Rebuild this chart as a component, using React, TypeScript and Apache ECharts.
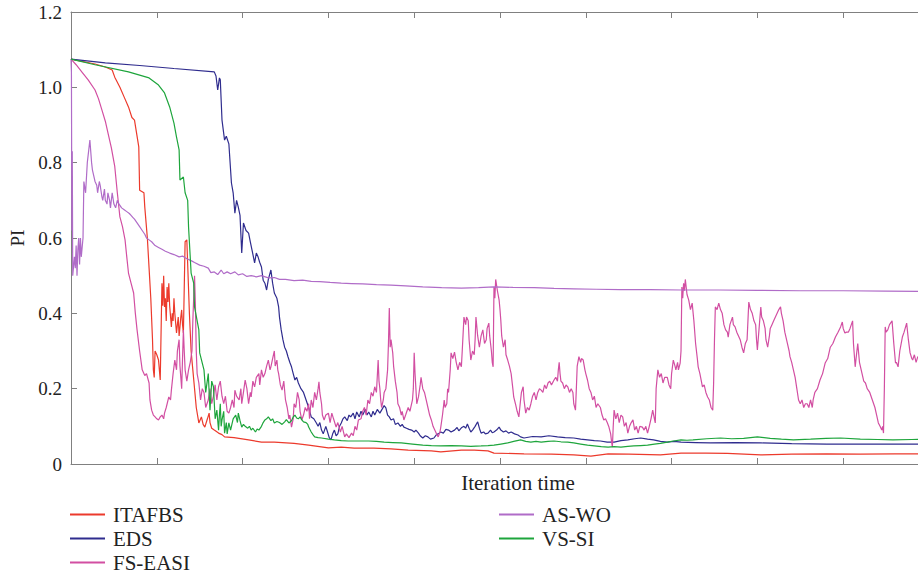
import React, { useEffect, useRef } from "react";
import * as echarts from "echarts";

const seriesNames = ["ITAFBS", "EDS", "FS-EASI", "AS-WO", "VS-SI"];
const seriesColors = ["#ec3a2c", "#2f2c8e", "#d24fa2", "#b06cc8", "#1ea53c"];
const yTicks = [0, 0.2, 0.4, 0.6, 0.8, 1.0, 1.2];

const itafbs: number[][] = [
  [0, 1.075], [28, 1.062], [40, 1.054], [48, 1.046], [51, 1.027], [57, 1.0], [62, 0.974], [67, 0.948],
  [71, 0.92], [74, 0.913], [79, 0.842], [80, 0.727], [85, 0.72], [86, 0.682], [89, 0.6], [91, 0.52],
  [93, 0.44], [95, 0.33], [96, 0.25], [97, 0.23], [98, 0.3], [100, 0.29], [102, 0.276], [104, 0.223],
  [106, 0.48], [107, 0.42], [108, 0.5], [109, 0.417], [110, 0.44], [111, 0.38], [112, 0.47], [113, 0.43],
  [114, 0.48], [115, 0.42], [117, 0.364], [118, 0.4], [119, 0.38], [120, 0.44], [121, 0.4], [123, 0.348],
  [124, 0.37], [125, 0.39], [126, 0.34], [127, 0.364], [128, 0.39], [129, 0.409], [130, 0.37], [131, 0.348],
  [133, 0.59], [135, 0.595], [138, 0.4], [140, 0.3], [142, 0.25], [144, 0.2], [146, 0.15], [149, 0.109],
  [152, 0.125], [154, 0.105], [156, 0.098], [159, 0.12], [161, 0.135], [162, 0.11], [164, 0.095], [167, 0.09],
  [172, 0.082], [176, 0.078], [179, 0.072], [190, 0.07], [207, 0.064], [222, 0.058], [237, 0.058], [260, 0.055],
  [277, 0.05], [300, 0.043], [315, 0.045], [330, 0.042], [353, 0.042], [373, 0.04], [393, 0.037], [420, 0.035],
  [431, 0.032], [455, 0.037], [470, 0.037], [486, 0.035], [493, 0.029], [528, 0.027], [560, 0.026], [586, 0.024],
  [606, 0.021], [626, 0.027], [650, 0.026], [687, 0.024], [711, 0.029], [740, 0.029], [765, 0.028], [804, 0.024],
  [840, 0.026], [881, 0.027], [920, 0.026], [960, 0.027], [1000, 0.027],
];

const eds: number[][] = [
  [0, 1.075], [40, 1.065], [80, 1.058], [120, 1.05], [167, 1.041], [169, 1.03], [171, 0.993], [173, 1.025],
  [174, 1.02], [176, 0.913], [179, 0.86], [181, 0.87], [184, 0.85], [187, 0.746], [189, 0.72], [191, 0.666],
  [193, 0.7], [195, 0.682], [197, 0.66], [199, 0.56], [201, 0.64], [204, 0.62], [207, 0.613], [209, 0.59],
  [211, 0.568], [214, 0.534], [216, 0.56], [218, 0.55], [220, 0.535], [222, 0.523], [224, 0.488], [226, 0.48],
  [228, 0.462], [230, 0.49], [233, 0.515], [235, 0.48], [237, 0.454], [240, 0.44], [242, 0.417], [243, 0.39],
  [245, 0.356], [247, 0.33], [249, 0.31], [251, 0.3], [253, 0.284], [255, 0.27], [257, 0.258], [259, 0.24],
  [261, 0.223], [263, 0.23], [265, 0.215], [268, 0.2], [271, 0.19], [274, 0.17], [277, 0.15], [280, 0.125],
  [283, 0.12], [286, 0.109], [288, 0.1], [290, 0.11], [292, 0.09], [294, 0.08], [297, 0.1], [299, 0.085],
  [301, 0.07], [303, 0.064], [305, 0.08], [307, 0.09], [309, 0.075], [311, 0.08], [313, 0.1], [315, 0.109],
  [317, 0.12], [319, 0.125], [322, 0.115], [324, 0.13], [326, 0.125], [329, 0.135], [331, 0.12], [333, 0.138],
  [336, 0.125], [338, 0.14], [340, 0.13], [343, 0.145], [345, 0.13], [347, 0.138], [350, 0.125], [352, 0.14],
  [354, 0.13], [357, 0.145], [360, 0.135], [362, 0.143], [365, 0.155], [367, 0.149], [369, 0.13], [371, 0.125],
  [373, 0.117], [376, 0.12], [378, 0.105], [381, 0.109], [384, 0.1], [386, 0.105], [388, 0.098], [391, 0.095],
  [394, 0.092], [397, 0.09], [400, 0.085], [402, 0.09], [405, 0.082], [407, 0.075], [410, 0.069], [413, 0.075],
  [416, 0.072], [419, 0.066], [423, 0.069], [426, 0.078], [428, 0.08], [431, 0.085], [434, 0.082], [437, 0.092],
  [440, 0.09], [443, 0.085], [447, 0.09], [450, 0.097], [452, 0.088], [455, 0.096], [458, 0.1], [460, 0.095],
  [462, 0.106], [464, 0.095], [466, 0.085], [468, 0.09], [471, 0.1], [474, 0.112], [476, 0.095], [478, 0.082],
  [481, 0.085], [483, 0.08], [486, 0.082], [489, 0.09], [491, 0.083], [493, 0.085], [496, 0.09], [499, 0.098],
  [501, 0.09], [504, 0.085], [507, 0.088], [510, 0.082], [513, 0.085], [517, 0.08], [521, 0.077], [524, 0.072],
  [528, 0.069], [538, 0.073], [548, 0.072], [557, 0.075], [567, 0.072], [576, 0.07], [586, 0.069], [594, 0.066],
  [602, 0.064], [610, 0.062], [617, 0.061], [625, 0.058], [633, 0.058], [641, 0.062], [649, 0.064], [657, 0.067],
  [664, 0.069], [672, 0.066], [679, 0.064], [687, 0.06], [695, 0.058], [703, 0.06], [711, 0.058], [728, 0.057],
  [745, 0.056], [775, 0.057], [804, 0.056], [840, 0.054], [881, 0.053], [940, 0.053], [1000, 0.053],
];

const fsEasi: number[][] = [
  [0, 1.075], [6, 1.06], [13, 1.04], [20, 1.02], [28, 0.993], [32, 0.97], [36, 0.94], [40, 0.91], [44, 0.87],
  [47, 0.84], [51, 0.79], [54, 0.72], [57, 0.656], [60, 0.63], [63, 0.595], [65, 0.55], [67, 0.507], [70, 0.48],
  [73, 0.454], [75, 0.4], [77, 0.356], [80, 0.3], [83, 0.25], [86, 0.235], [88, 0.24], [91, 0.215], [92, 0.17],
  [94, 0.143], [96, 0.13], [98, 0.125], [100, 0.12], [102, 0.117], [104, 0.125], [106, 0.13], [108, 0.12],
  [109, 0.135], [111, 0.15], [114, 0.178], [116, 0.17], [117, 0.196], [119, 0.24], [121, 0.276], [123, 0.25],
  [124, 0.3], [126, 0.33], [127, 0.26], [129, 0.2], [130, 0.28], [131, 0.356], [132, 0.3], [133, 0.25],
  [135, 0.22], [137, 0.25], [139, 0.27], [141, 0.3], [142, 0.38], [144, 0.5], [145, 0.42], [146, 0.3],
  [147, 0.24], [149, 0.215], [151, 0.17], [153, 0.2], [155, 0.19], [157, 0.15], [160, 0.17], [162, 0.2],
  [164, 0.16], [166, 0.18], [168, 0.21], [170, 0.17], [172, 0.205], [174, 0.22], [176, 0.18], [178, 0.16],
  [180, 0.18], [182, 0.14], [184, 0.135], [186, 0.15], [188, 0.17], [190, 0.15], [191, 0.196], [193, 0.18],
  [196, 0.17], [198, 0.2], [199, 0.16], [201, 0.19], [203, 0.223], [205, 0.2], [207, 0.16], [209, 0.19],
  [210, 0.178], [212, 0.22], [214, 0.205], [216, 0.23], [219, 0.24], [220, 0.21], [222, 0.25], [224, 0.23],
  [226, 0.24], [228, 0.26], [230, 0.276], [232, 0.25], [233, 0.258], [235, 0.28], [237, 0.3], [238, 0.26],
  [240, 0.276], [241, 0.25], [242, 0.24], [244, 0.21], [246, 0.196], [248, 0.22], [250, 0.17], [252, 0.15],
  [254, 0.12], [255, 0.13], [257, 0.098], [259, 0.12], [260, 0.16], [262, 0.15], [264, 0.19], [266, 0.17],
  [267, 0.14], [269, 0.117], [271, 0.13], [273, 0.15], [275, 0.14], [277, 0.16], [278, 0.12], [280, 0.17],
  [282, 0.15], [284, 0.19], [286, 0.17], [288, 0.2], [289, 0.218], [290, 0.19], [292, 0.16], [293, 0.13],
  [295, 0.117], [297, 0.13], [300, 0.135], [302, 0.11], [304, 0.135], [306, 0.12], [309, 0.098], [311, 0.11],
  [314, 0.085], [316, 0.1], [319, 0.072], [321, 0.08], [324, 0.07], [327, 0.082], [329, 0.075], [331, 0.1],
  [333, 0.09], [335, 0.117], [338, 0.12], [340, 0.14], [342, 0.15], [344, 0.13], [346, 0.17], [348, 0.16],
  [350, 0.19], [352, 0.18], [354, 0.205], [356, 0.19], [358, 0.276], [359, 0.22], [360, 0.2], [361, 0.17],
  [362, 0.15], [364, 0.17], [365, 0.19], [367, 0.2], [369, 0.25], [370, 0.32], [371, 0.414], [372, 0.31],
  [373, 0.33], [375, 0.295], [376, 0.26], [378, 0.22], [380, 0.19], [381, 0.16], [383, 0.15], [385, 0.13],
  [386, 0.14], [388, 0.117], [390, 0.13], [393, 0.15], [395, 0.14], [398, 0.17], [399, 0.2], [400, 0.295],
  [401, 0.24], [402, 0.2], [403, 0.16], [405, 0.178], [407, 0.21], [408, 0.23], [410, 0.2], [412, 0.19],
  [414, 0.17], [416, 0.15], [418, 0.13], [420, 0.117], [422, 0.1], [424, 0.09], [426, 0.08], [428, 0.072],
  [430, 0.085], [431, 0.098], [433, 0.13], [435, 0.17], [436, 0.15], [438, 0.16], [439, 0.2], [440, 0.19],
  [442, 0.25], [443, 0.295], [445, 0.28], [447, 0.297], [449, 0.27], [451, 0.25], [453, 0.27], [455, 0.258],
  [456, 0.3], [458, 0.39], [460, 0.37], [461, 0.39], [463, 0.38], [464, 0.33], [466, 0.276], [468, 0.3],
  [470, 0.29], [471, 0.33], [472, 0.39], [474, 0.34], [476, 0.31], [478, 0.34], [480, 0.356], [482, 0.32],
  [484, 0.33], [485, 0.36], [487, 0.374], [488, 0.34], [490, 0.3], [491, 0.27], [492, 0.258], [493, 0.47],
  [494, 0.44], [495, 0.49], [497, 0.46], [499, 0.435], [500, 0.41], [501, 0.38], [502, 0.34], [504, 0.31],
  [506, 0.33], [507, 0.29], [509, 0.276], [511, 0.26], [513, 0.24], [515, 0.2], [516, 0.178], [518, 0.16],
  [520, 0.14], [522, 0.125], [524, 0.17], [525, 0.19], [527, 0.205], [528, 0.17], [530, 0.135], [532, 0.15],
  [534, 0.143], [536, 0.16], [538, 0.18], [540, 0.19], [542, 0.17], [544, 0.19], [546, 0.2], [548, 0.196],
  [550, 0.19], [552, 0.21], [554, 0.2], [556, 0.215], [558, 0.22], [560, 0.21], [563, 0.223], [565, 0.23],
  [567, 0.22], [568, 0.25], [569, 0.27], [570, 0.24], [571, 0.22], [573, 0.215], [575, 0.2], [577, 0.21],
  [579, 0.205], [581, 0.19], [583, 0.2], [585, 0.19], [586, 0.16], [588, 0.143], [589, 0.2], [590, 0.26],
  [592, 0.285], [594, 0.27], [595, 0.28], [597, 0.276], [599, 0.25], [600, 0.24], [602, 0.223], [604, 0.2],
  [606, 0.19], [608, 0.17], [610, 0.18], [612, 0.15], [614, 0.16], [617, 0.15], [619, 0.13], [621, 0.117],
  [623, 0.12], [625, 0.11], [627, 0.098], [629, 0.08], [630, 0.06], [631, 0.045], [632, 0.1], [633, 0.143],
  [635, 0.12], [637, 0.135], [639, 0.11], [641, 0.13], [643, 0.125], [645, 0.1], [647, 0.11], [649, 0.082],
  [651, 0.1], [653, 0.11], [655, 0.117], [657, 0.09], [659, 0.1], [661, 0.082], [663, 0.1], [666, 0.098],
  [668, 0.09], [670, 0.1], [672, 0.082], [674, 0.1], [676, 0.12], [678, 0.143], [680, 0.12], [681, 0.109],
  [682, 0.2], [684, 0.25], [686, 0.23], [688, 0.24], [690, 0.215], [692, 0.23], [695, 0.23], [697, 0.21],
  [699, 0.2], [700, 0.24], [702, 0.276], [704, 0.26], [705, 0.25], [707, 0.27], [708, 0.25], [710, 0.268],
  [711, 0.3], [712, 0.47], [713, 0.44], [714, 0.48], [715, 0.46], [716, 0.49], [718, 0.45], [720, 0.435],
  [722, 0.41], [724, 0.427], [726, 0.38], [728, 0.32], [730, 0.28], [731, 0.258], [733, 0.24], [736, 0.205],
  [738, 0.21], [740, 0.19], [742, 0.178], [744, 0.17], [746, 0.15], [748, 0.143], [749, 0.215], [750, 0.33],
  [751, 0.417], [753, 0.41], [755, 0.427], [757, 0.41], [759, 0.4], [761, 0.37], [763, 0.356], [765, 0.35],
  [766, 0.337], [768, 0.37], [771, 0.39], [772, 0.37], [774, 0.364], [776, 0.35], [778, 0.34], [780, 0.33],
  [782, 0.31], [784, 0.295], [786, 0.32], [788, 0.33], [789, 0.38], [790, 0.43], [792, 0.41], [794, 0.4],
  [796, 0.38], [798, 0.37], [799, 0.33], [800, 0.303], [802, 0.36], [804, 0.417], [805, 0.39], [807, 0.38],
  [809, 0.36], [810, 0.33], [812, 0.31], [814, 0.34], [815, 0.36], [817, 0.37], [819, 0.38], [821, 0.39],
  [823, 0.4], [825, 0.41], [827, 0.417], [828, 0.4], [830, 0.38], [832, 0.35], [835, 0.32], [837, 0.3],
  [838, 0.285], [840, 0.27], [842, 0.25], [844, 0.23], [846, 0.2], [848, 0.17], [850, 0.16], [852, 0.17],
  [854, 0.15], [856, 0.16], [858, 0.16], [860, 0.15], [862, 0.17], [864, 0.15], [865, 0.17], [867, 0.19],
  [870, 0.2], [873, 0.223], [876, 0.24], [879, 0.268], [882, 0.28], [885, 0.31], [888, 0.32], [891, 0.337],
  [894, 0.35], [897, 0.364], [899, 0.377], [900, 0.36], [902, 0.348], [904, 0.35], [906, 0.35], [908, 0.36],
  [911, 0.38], [912, 0.32], [914, 0.258], [916, 0.3], [917, 0.32], [919, 0.27], [922, 0.24], [924, 0.22],
  [926, 0.215], [928, 0.2], [931, 0.19], [934, 0.17], [937, 0.15], [939, 0.13], [941, 0.109], [943, 0.1],
  [945, 0.09], [946, 0.1], [947, 0.082], [948, 0.2], [949, 0.364], [950, 0.35], [952, 0.356], [954, 0.37],
  [957, 0.38], [959, 0.32], [961, 0.268], [962, 0.27], [964, 0.258], [966, 0.3], [969, 0.337], [971, 0.35],
  [974, 0.374], [976, 0.33], [978, 0.295], [980, 0.28], [981, 0.276], [983, 0.29], [985, 0.27], [987, 0.285],
  [990, 0.28], [1000, 0.28],
];

const asWo: number[][] = [
  [0, 1.075], [0.5, 1.04], [1, 0.62], [1.5, 0.83], [2, 0.5], [4, 0.55], [5, 0.52], [6, 0.58], [7, 0.5],
  [8, 0.57], [9, 0.6], [10, 0.53], [11, 0.6], [12, 0.55], [14, 0.6], [15, 0.75], [17, 0.72], [19, 0.8],
  [22, 0.86], [24, 0.8], [25, 0.78], [27, 0.76], [28, 0.75], [30, 0.74], [31, 0.72], [33, 0.75], [34, 0.74],
  [36, 0.71], [37, 0.7], [39, 0.73], [40, 0.7], [42, 0.69], [43, 0.72], [45, 0.7], [46, 0.68], [48, 0.72],
  [50, 0.69], [52, 0.68], [54, 0.7], [56, 0.69], [59, 0.68], [62, 0.675], [65, 0.67], [68, 0.665], [70, 0.66],
  [72, 0.655], [74, 0.65], [77, 0.64], [80, 0.63], [83, 0.62], [86, 0.61], [88, 0.6], [91, 0.595], [94, 0.59],
  [98, 0.58], [102, 0.575], [106, 0.57], [110, 0.565], [115, 0.56], [120, 0.556], [126, 0.55], [130, 0.552],
  [135, 0.545], [140, 0.54], [144, 0.535], [150, 0.528], [155, 0.525], [160, 0.52], [163, 0.508], [167, 0.51],
  [171, 0.503], [175, 0.515], [178, 0.505], [182, 0.51], [186, 0.505], [191, 0.51], [195, 0.502], [200, 0.505],
  [205, 0.498], [210, 0.5], [216, 0.497], [222, 0.5], [230, 0.494], [237, 0.495], [243, 0.49], [250, 0.49],
  [260, 0.487], [270, 0.488], [280, 0.485], [290, 0.484], [302, 0.482], [315, 0.48], [327, 0.479], [340, 0.478],
  [356, 0.476], [373, 0.475], [390, 0.473], [410, 0.47], [432, 0.468], [455, 0.467], [475, 0.468], [493, 0.47],
  [515, 0.469], [540, 0.468], [563, 0.466], [586, 0.465], [612, 0.464], [640, 0.463], [675, 0.463], [711, 0.462],
  [755, 0.462], [800, 0.461], [850, 0.46], [900, 0.46], [950, 0.459], [1000, 0.458],
];

const vsSi: number[][] = [
  [0, 1.075], [28, 1.06], [67, 1.041], [91, 1.025], [102, 1.006], [109, 0.985], [115, 0.948], [120, 0.905],
  [123, 0.868], [126, 0.834], [127, 0.754], [131, 0.762], [133, 0.72], [136, 0.7], [137, 0.63], [140, 0.507],
  [143, 0.48], [144, 0.417], [149, 0.356], [150, 0.295], [155, 0.25], [157, 0.19], [160, 0.24], [162, 0.143],
  [164, 0.22], [166, 0.205], [168, 0.12], [170, 0.143], [172, 0.09], [173, 0.13], [174, 0.16], [175, 0.1],
  [176, 0.117], [178, 0.14], [179, 0.082], [181, 0.11], [182, 0.08], [184, 0.109], [186, 0.09], [187, 0.1],
  [189, 0.12], [192, 0.13], [194, 0.11], [195, 0.135], [197, 0.115], [199, 0.098], [201, 0.105], [203, 0.1],
  [206, 0.095], [208, 0.1], [210, 0.09], [212, 0.095], [215, 0.085], [217, 0.093], [219, 0.09], [222, 0.1],
  [224, 0.11], [226, 0.117], [228, 0.12], [230, 0.125], [233, 0.115], [235, 0.12], [237, 0.109], [240, 0.113],
  [243, 0.11], [246, 0.105], [249, 0.112], [251, 0.118], [254, 0.109], [257, 0.115], [259, 0.125], [261, 0.13],
  [263, 0.122], [265, 0.12], [267, 0.125], [269, 0.117], [271, 0.112], [274, 0.11], [276, 0.105], [277, 0.098],
  [280, 0.085], [282, 0.078], [284, 0.072], [288, 0.07], [292, 0.069], [300, 0.066], [307, 0.064], [315, 0.062],
  [323, 0.061], [335, 0.061], [347, 0.061], [356, 0.06], [365, 0.058], [375, 0.057], [385, 0.056], [398, 0.053],
  [410, 0.05], [420, 0.049], [431, 0.048], [443, 0.049], [455, 0.048], [466, 0.047], [478, 0.048], [486, 0.049],
  [493, 0.05], [501, 0.053], [509, 0.056], [516, 0.06], [524, 0.064], [530, 0.06], [536, 0.058], [542, 0.06],
  [548, 0.058], [556, 0.06], [563, 0.061], [571, 0.059], [579, 0.058], [586, 0.056], [594, 0.053], [602, 0.05],
  [610, 0.048], [618, 0.046], [626, 0.045], [633, 0.046], [641, 0.045], [649, 0.047], [656, 0.048], [664, 0.049],
  [672, 0.05], [680, 0.053], [687, 0.055], [695, 0.058], [702, 0.061], [711, 0.064], [718, 0.063], [725, 0.064],
  [741, 0.067], [757, 0.069], [770, 0.067], [784, 0.068], [800, 0.072], [815, 0.068], [828, 0.066], [842, 0.064],
  [862, 0.066], [880, 0.068], [897, 0.069], [920, 0.066], [940, 0.065], [958, 0.064], [980, 0.065], [1000, 0.066],
];

const seriesData = [itafbs, eds, fsEasi, asWo, vsSi];

const FONT = "'Liberation Serif', 'DejaVu Serif', serif";
const AXIS_COLOR = "#808080";
const TEXT_COLOR = "#222222";

const legendPlaces = [
  { left: 65, top: 499 },
  { left: 65, top: 523 },
  { left: 65, top: 547 },
  { left: 494, top: 499 },
  { left: 494, top: 523 },
];

export default function App() {
  const ref = useRef<HTMLDivElement>(null);
  useEffect(() => {
    document.body.style.margin = "0";
    document.body.style.overflow = "hidden";
    document.documentElement.style.overflow = "hidden";
    if (!ref.current) return;
    const chart = echarts.init(ref.current, undefined, { renderer: "svg" });
    const axisCommon = {
      axisLine: { show: true, lineStyle: { color: AXIS_COLOR, width: 1 } },
      axisTick: { show: true, inside: true, length: 6, lineStyle: { color: AXIS_COLOR } },
      splitLine: { show: false },
    };
    chart.setOption({
      animation: false,
      backgroundColor: "#ffffff",
      grid: { left: 69, top: 12, right: 0, bottom: 110, containLabel: false },
      legend: seriesNames.map((name, i) => ({
        data: [name],
        left: legendPlaces[i].left,
        top: legendPlaces[i].top,
        icon: "rect",
        itemWidth: 35,
        itemHeight: 2,
        textStyle: { fontFamily: FONT, fontSize: 21, color: TEXT_COLOR, padding: [0, 0, 0, 3] },
      })),
      xAxis: [
        {
          type: "value",
          position: "bottom",
          min: 0,
          max: 1042,
          interval: 100,
          ...axisCommon,
          axisLabel: { show: false },
          name: "Iteration time",
          nameLocation: "middle",
          nameGap: 8,
          nameTextStyle: { fontFamily: FONT, fontSize: 21, color: TEXT_COLOR, verticalAlign: "top" },
        },
        {
          type: "value",
          position: "top",
          min: 0,
          max: 1042,
          interval: 100,
          ...axisCommon,
          axisLabel: { show: false },
        },
      ],
      yAxis: {
        type: "value",
        min: 0,
        max: 1.2,
        interval: 0.2,
        ...axisCommon,
        axisLabel: {
          fontFamily: FONT,
          fontSize: 19,
          color: TEXT_COLOR,
          margin: 9,
          formatter: (v: number) => {
            const t = yTicks.find((k) => Math.abs(k - v) < 1e-9);
            const val = t === undefined ? v : t;
            return val === 0 ? "0" : val.toFixed(1);
          },
        },
        name: "PI",
        nameLocation: "middle",
        nameGap: 44,
        nameRotate: 90,
        nameTextStyle: { fontFamily: FONT, fontSize: 19, color: TEXT_COLOR },
      },
      series: seriesNames.map((name, i) => ({
        name,
        type: "line",
        data: seriesData[i],
        showSymbol: false,
        symbol: "none",
        color: seriesColors[i],
        lineStyle: { width: 1.2, color: seriesColors[i] },
        clip: true,
      })),
    });
    return () => chart.dispose();
  }, []);
  return (
    <div style={{ width: 918, height: 574, overflow: "hidden" }}>
      <div ref={ref} style={{ width: 965, height: 574 }} />
    </div>
  );
}
